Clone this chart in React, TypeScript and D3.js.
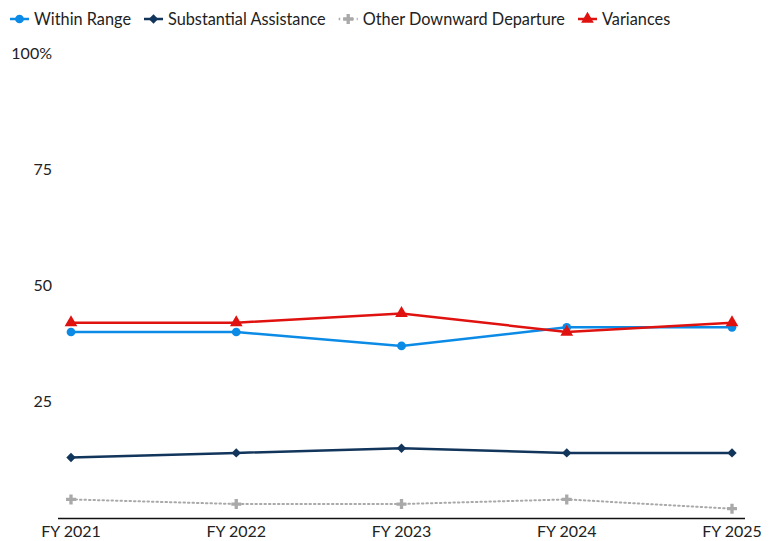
import { useEffect, useRef } from "react";
import * as d3 from "d3";

// Sentencing outcome shares by fiscal year (percent of cases).
const YEARS = ["FY 2021", "FY 2022", "FY 2023", "FY 2024", "FY 2025"];
const WITHIN_RANGE = [40, 40, 37, 41, 41];
const SUBSTANTIAL = [13, 14, 15, 14, 14];
const OTHER_DOWNWARD = [4, 3, 3, 4, 2];
const VARIANCES = [42, 42, 44, 40, 42];
const Y_TICKS = [25, 50, 75, 100];

type Shape = "circle" | "diamond" | "cross" | "triangle";
const SERIES: { name: string; values: number[]; color: string; shape: Shape; dash?: string }[] = [
  { name: "Within Range", values: WITHIN_RANGE, color: "#0b8ae6", shape: "circle" },
  { name: "Substantial Assistance", values: SUBSTANTIAL, color: "#12355b", shape: "diamond" },
  { name: "Other Downward Departure", values: OTHER_DOWNWARD, color: "#a9a9a9", shape: "cross", dash: "1.5 3" },
  { name: "Variances", values: VARIANCES, color: "#e0120f", shape: "triangle" },
];
// draw order: red last on top
const DRAW_ORDER = [2, 1, 0, 3];

const W = 771;
const H = 541;
const FONT = "Lato, 'Open Sans', sans-serif";
const FS = 16;

const symbolFor = (s: Shape) =>
  s === "circle" ? d3.symbolCircle : s === "diamond" ? d3.symbolSquare : s === "cross" ? d3.symbolCross : d3.symbolTriangle;
const sizeFor = (s: Shape) => (s === "circle" ? 60 : s === "diamond" ? 44 : s === "cross" ? 55 : 70);
const rot = (s: Shape) => (s === "diamond" ? " rotate(45)" : "");

export default function App() {
  const ref = useRef<SVGSVGElement>(null);

  useEffect(() => {
    const svg = d3.select(ref.current!);
    svg.selectAll("*").remove();

    const x = d3.scalePoint<string>().domain(YEARS).range([71, 732]);
    const y = d3.scaleLinear().domain([0, 100]).range([518, 53]);

    // y labels (no gridlines)
    svg
      .append("g")
      .selectAll("text")
      .data(Y_TICKS)
      .join("text")
      .attr("x", 52)
      .attr("y", (d) => y(d))
      .attr("dy", "0.35em")
      .attr("text-anchor", "end")
      .attr("font-family", FONT)
      .attr("font-size", FS)
      .attr("fill", "#222")
      .text((d) => (d === 100 ? "100%" : String(d)));

    // x axis baseline
    svg
      .append("line")
      .attr("x1", 58)
      .attr("x2", 745)
      .attr("y1", 518.5)
      .attr("y2", 518.5)
      .attr("stroke", "#111")
      .attr("stroke-width", 1.3);

    svg
      .append("g")
      .selectAll("text")
      .data(YEARS)
      .join("text")
      .attr("x", (d) => x(d)!)
      .attr("y", 537)
      .attr("text-anchor", "middle")
      .attr("font-family", FONT)
      .attr("font-size", FS)
      .attr("fill", "#222")
      .text((d) => d);

    const line = d3
      .line<number>()
      .x((_, i) => x(YEARS[i])!)
      .y((d) => y(d));

    for (const idx of DRAW_ORDER) {
      const s = SERIES[idx];
      const g = svg.append("g");
      g.append("path")
        .attr("d", line(s.values))
        .attr("fill", "none")
        .attr("stroke", s.color)
        .attr("stroke-width", s.dash ? 2 : 2.5)
        .attr("stroke-dasharray", s.dash ?? null)
        .attr("stroke-linecap", s.dash ? "round" : "butt");
      g.selectAll("path.m")
        .data(s.values)
        .join("path")
        .attr("class", "m")
        .attr("transform", (d, i) => `translate(${x(YEARS[i])},${y(d)})${rot(s.shape)}`)
        .attr("d", d3.symbol().type(symbolFor(s.shape)).size(sizeFor(s.shape))())
        .attr("fill", s.color);
    }

    // legend
    const leg = svg.append("g").attr("transform", "translate(10,19)");
    let cx = 0;
    SERIES.forEach((s) => {
      const item = leg.append("g").attr("transform", `translate(${cx},0)`);
      item
        .append("line")
        .attr("x1", 0)
        .attr("x2", 19)
        .attr("stroke", s.color)
        .attr("stroke-width", 2.5)
        .attr("stroke-dasharray", s.dash ?? null);
      item
        .append("path")
        .attr("transform", `translate(9.5,0)${rot(s.shape)}`)
        .attr("d", d3.symbol().type(symbolFor(s.shape)).size(sizeFor(s.shape))())
        .attr("fill", s.color);
      const t = item
        .append("text")
        .attr("x", 24)
        .attr("dy", "0.35em")
        .attr("font-family", FONT)
        .attr("font-size", 16.3)
        .attr("fill", "#222")
        .text(s.name);
      const tw = (t.node() as SVGTextElement).getComputedTextLength();
      cx += 24 + tw + 13;
    });
  }, []);

  return <svg ref={ref} width={W} height={H} style={{ position: "absolute", left: 0, top: 0 }} />;
}
